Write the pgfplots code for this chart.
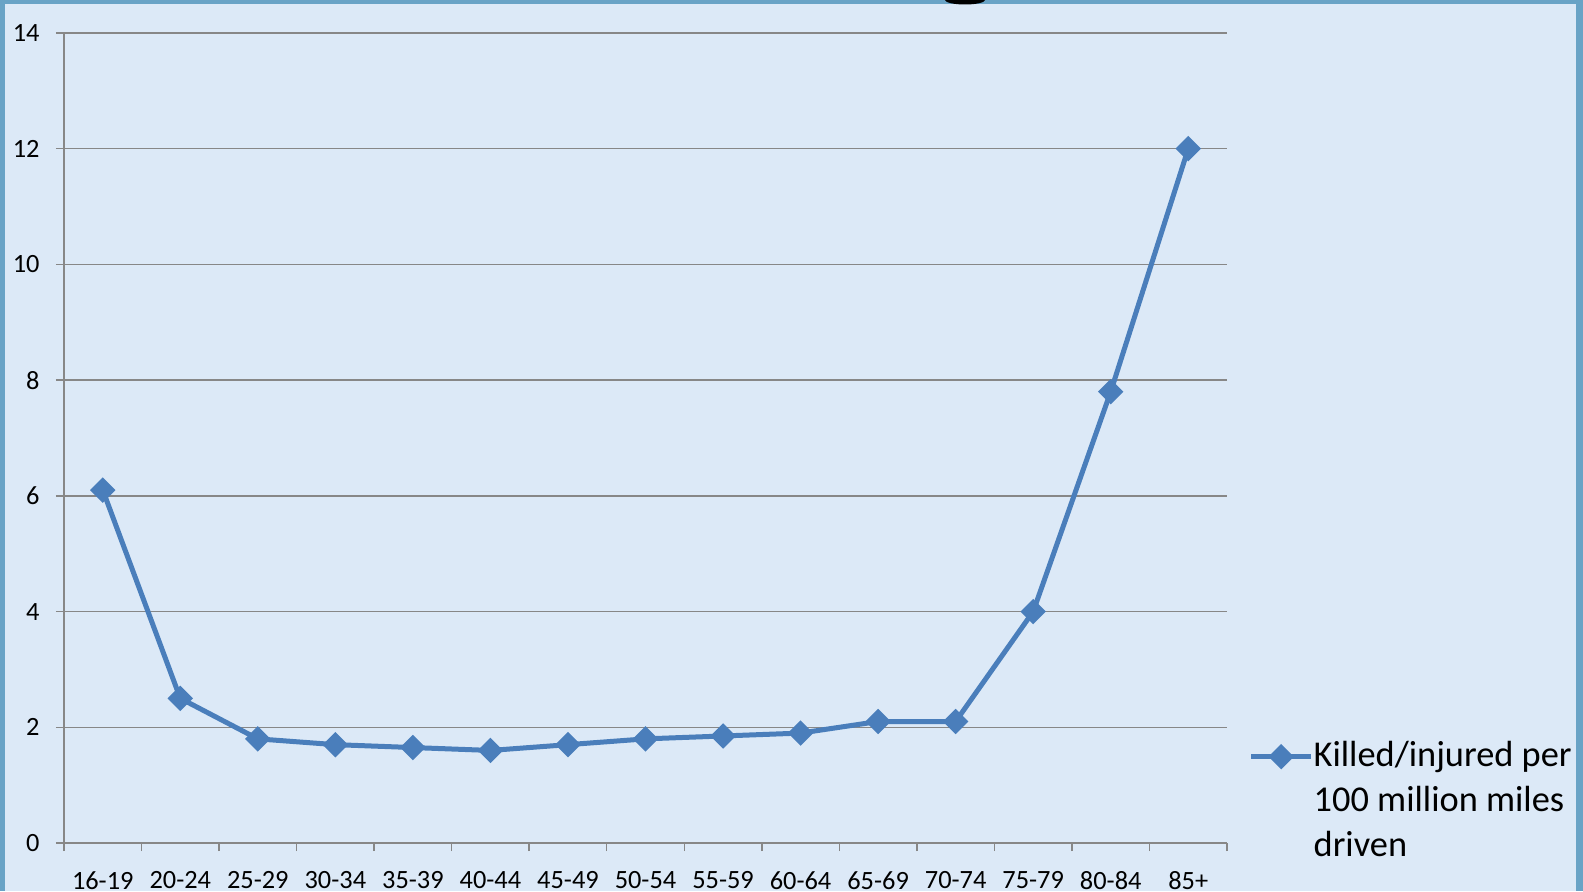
\documentclass[border=0pt]{standalone}
\usepackage{fontspec}
\setmainfont{Carlito}
\usepackage{pgfplots}
\pgfplotsset{compat=1.18}
\definecolor{bgblue}{HTML}{DCE9F7}
\definecolor{frameblue}{HTML}{69A3C6}
\definecolor{series}{HTML}{4A7EBB}
\definecolor{gridgray}{HTML}{878787}

\begin{document}
\begin{tikzpicture}
\useasboundingbox (0mm,0mm) rectangle (158.3mm,89.1mm);
\fill[bgblue] (0mm,0mm) rectangle (158.3mm,89.1mm);
\fill[frameblue] (0mm,88.7mm) rectangle (158.3mm,89.1mm);
\fill[frameblue] (0mm,0mm) rectangle (0.5mm,89.1mm);
\fill[frameblue] (157.6mm,0mm) rectangle (158.3mm,89.1mm);
\fill[black] (94.5mm,89.1mm) arc[start angle=180, end angle=360, x radius=2mm, y radius=0.45mm];

\begin{axis}[
  at={(6.4mm,4.8mm)}, anchor=south west,
  scale only axis, width=116.3mm, height=81mm,
  xmin=0.5, xmax=15.5, ymin=0, ymax=14,
  axis lines=left,
  axis line style={-, draw=gridgray, line width=0.15mm},
  xtick={0.5,1.5,...,15.5},
  x tick label as interval,
  xticklabels={16-19,20-24,25-29,30-34,35-39,40-44,45-49,50-54,55-59,60-64,65-69,70-74,75-79,80-84,85+},
  ytick={0,2,...,14},
  tick align=outside,
  major tick length=0.8mm,
  tick style={draw=gridgray, line width=0.15mm},
  ymajorgrids,
  grid style={draw=gridgray, line width=0.15mm},
  tick label style={font=\fontsize{7.5}{8.5}\selectfont, text=black},
  /pgf/number format/assume math mode=true,
  yticklabel style={xshift=-0.4mm},
  xticklabel style={yshift=-0.8mm},
  legend style={at={(1.018,0.135)}, anchor=north west, draw=none, fill=none,
    font=\fontsize{10.35}{12.8}\selectfont, cells={align=left}, inner sep=0pt,
    nodes={inner xsep=0mm}},
  legend image post style={yshift=4.5mm},
  legend cell align=left,
]
\addplot[color=series, line width=0.5mm, mark=square*, mark size=0.65mm,
  mark options={rotate=45, fill=series}] coordinates {
  (1,6.1) (2,2.5) (3,1.8) (4,1.7) (5,1.65) (6,1.6) (7,1.7) (8,1.8)
  (9,1.85) (10,1.9) (11,2.1) (12,2.1) (13,4.0) (14,7.8) (15,12.0)
};
\addlegendentry{Killed/injured per\\100 million miles\\driven}
\end{axis}
\end{tikzpicture}
\end{document}
